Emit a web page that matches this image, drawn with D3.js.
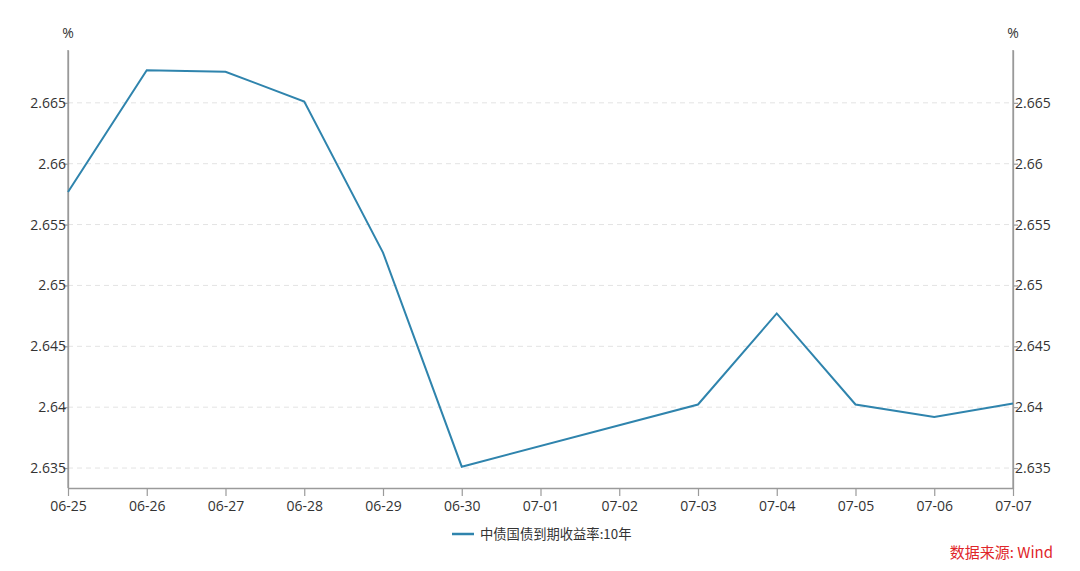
<!DOCTYPE html>
<html>
<head>
<meta charset="utf-8">
<script src="https://cdn.jsdelivr.net/npm/d3@7"></script>
<style>
  html, body { margin: 0; padding: 0; background: #fff; }
  svg { display: block; font-family: "Open Sans", "Noto Sans CJK SC", sans-serif; }
</style>
</head>
<body>
<svg id="chart" width="1080" height="571"></svg>
<script>
const categories = ["06-25","06-26","06-27","06-28","06-29","06-30","07-01","07-02","07-03","07-04","07-05","07-06","07-07"];
const values = [2.65767, 2.66767, 2.66755, 2.66511, 2.65270, 2.63511, null, null, 2.64022, 2.64770, 2.64022, 2.63920, 2.64030];
const yTicks = [2.635, 2.64, 2.645, 2.65, 2.655, 2.66, 2.665];
const seriesName = "中债国债到期收益率:10年";
const sourceText = "数据来源: Wind";

const svg = d3.select("#chart");
const mLeft = 68, mRight = 1013, mTop = 50, mBottom = 488;

const x = d3.scalePoint().domain(categories).range([mLeft, mRight]);
const y = d3.scaleLinear().domain([2.63336, 2.66934]).range([mBottom, mTop]);

svg.append("g").selectAll("line").data(yTicks).join("line")
  .attr("x1", mLeft).attr("x2", mRight)
  .attr("y1", d => y(d)).attr("y2", d => y(d))
  .attr("stroke", "#e3e3e3").attr("stroke-width", 1)
  .attr("stroke-dasharray", "5,4");

const fmt = d => String(+d.toFixed(3));

const gl = svg.append("g").attr("transform", `translate(${mLeft},0)`)
  .call(d3.axisLeft(y).tickValues(yTicks).tickFormat(fmt).tickSize(5).tickSizeOuter(0));
const gr = svg.append("g").attr("transform", `translate(${mRight},0)`)
  .call(d3.axisRight(y).tickValues(yTicks).tickFormat(fmt).tickSize(5).tickSizeOuter(0));
const gb = svg.append("g").attr("transform", `translate(0,${mBottom})`)
  .call(d3.axisBottom(x).tickSize(8).tickSizeOuter(0));

[gl, gr, gb].forEach(g => {
  g.select(".domain").attr("stroke", "#9a9a9a").attr("stroke-width", 1.3);
  g.selectAll(".tick line").attr("stroke", "#9a9a9a").attr("stroke-width", 1.2);
  g.selectAll(".tick text").attr("fill", "#333").style("font-size", "14px")
    .style("font-family", "'Open Sans', sans-serif");
});
gl.selectAll(".tick text").attr("x", -2);
gr.selectAll(".tick text").attr("x", 2);
gb.selectAll(".tick text").attr("y", 13);

svg.append("line").attr("x1", mLeft).attr("x2", mLeft).attr("y1", mTop).attr("y2", mBottom)
  .attr("stroke", "#9a9a9a").attr("stroke-width", 1.3);
svg.append("line").attr("x1", mRight).attr("x2", mRight).attr("y1", mTop).attr("y2", mBottom)
  .attr("stroke", "#9a9a9a").attr("stroke-width", 1.3);

svg.append("text").attr("x", mLeft).attr("y", 38).attr("text-anchor", "middle")
  .attr("fill", "#333").style("font-size", "14px").text("%");
svg.append("text").attr("x", mRight).attr("y", 38).attr("text-anchor", "middle")
  .attr("fill", "#333").style("font-size", "14px").text("%");

const pts = categories.map((c, i) => ({c, v: values[i]})).filter(d => d.v !== null);
const lineGen = d3.line().x(d => x(d.c)).y(d => y(d.v));
svg.append("path").datum(pts).attr("d", lineGen)
  .attr("fill", "none").attr("stroke", "#2f84ad").attr("stroke-width", 2)
  .attr("stroke-linejoin", "miter");

svg.append("line").attr("x1", 452).attr("x2", 474).attr("y1", 534).attr("y2", 534)
  .attr("stroke", "#2f84ad").attr("stroke-width", 2.5);
svg.append("text").attr("x", 480).attr("y", 539)
  .attr("fill", "#333").style("font-size", "13.3px")
  .style("font-family", "'Noto Sans CJK SC', sans-serif").text(seriesName);

svg.append("text").attr("x", 1053).attr("y", 558).attr("text-anchor", "end")
  .attr("fill", "#e0262a").style("font-size", "15px")
  .style("font-family", "'Noto Sans CJK SC', sans-serif").text(sourceText);
</script>
</body>
</html>
